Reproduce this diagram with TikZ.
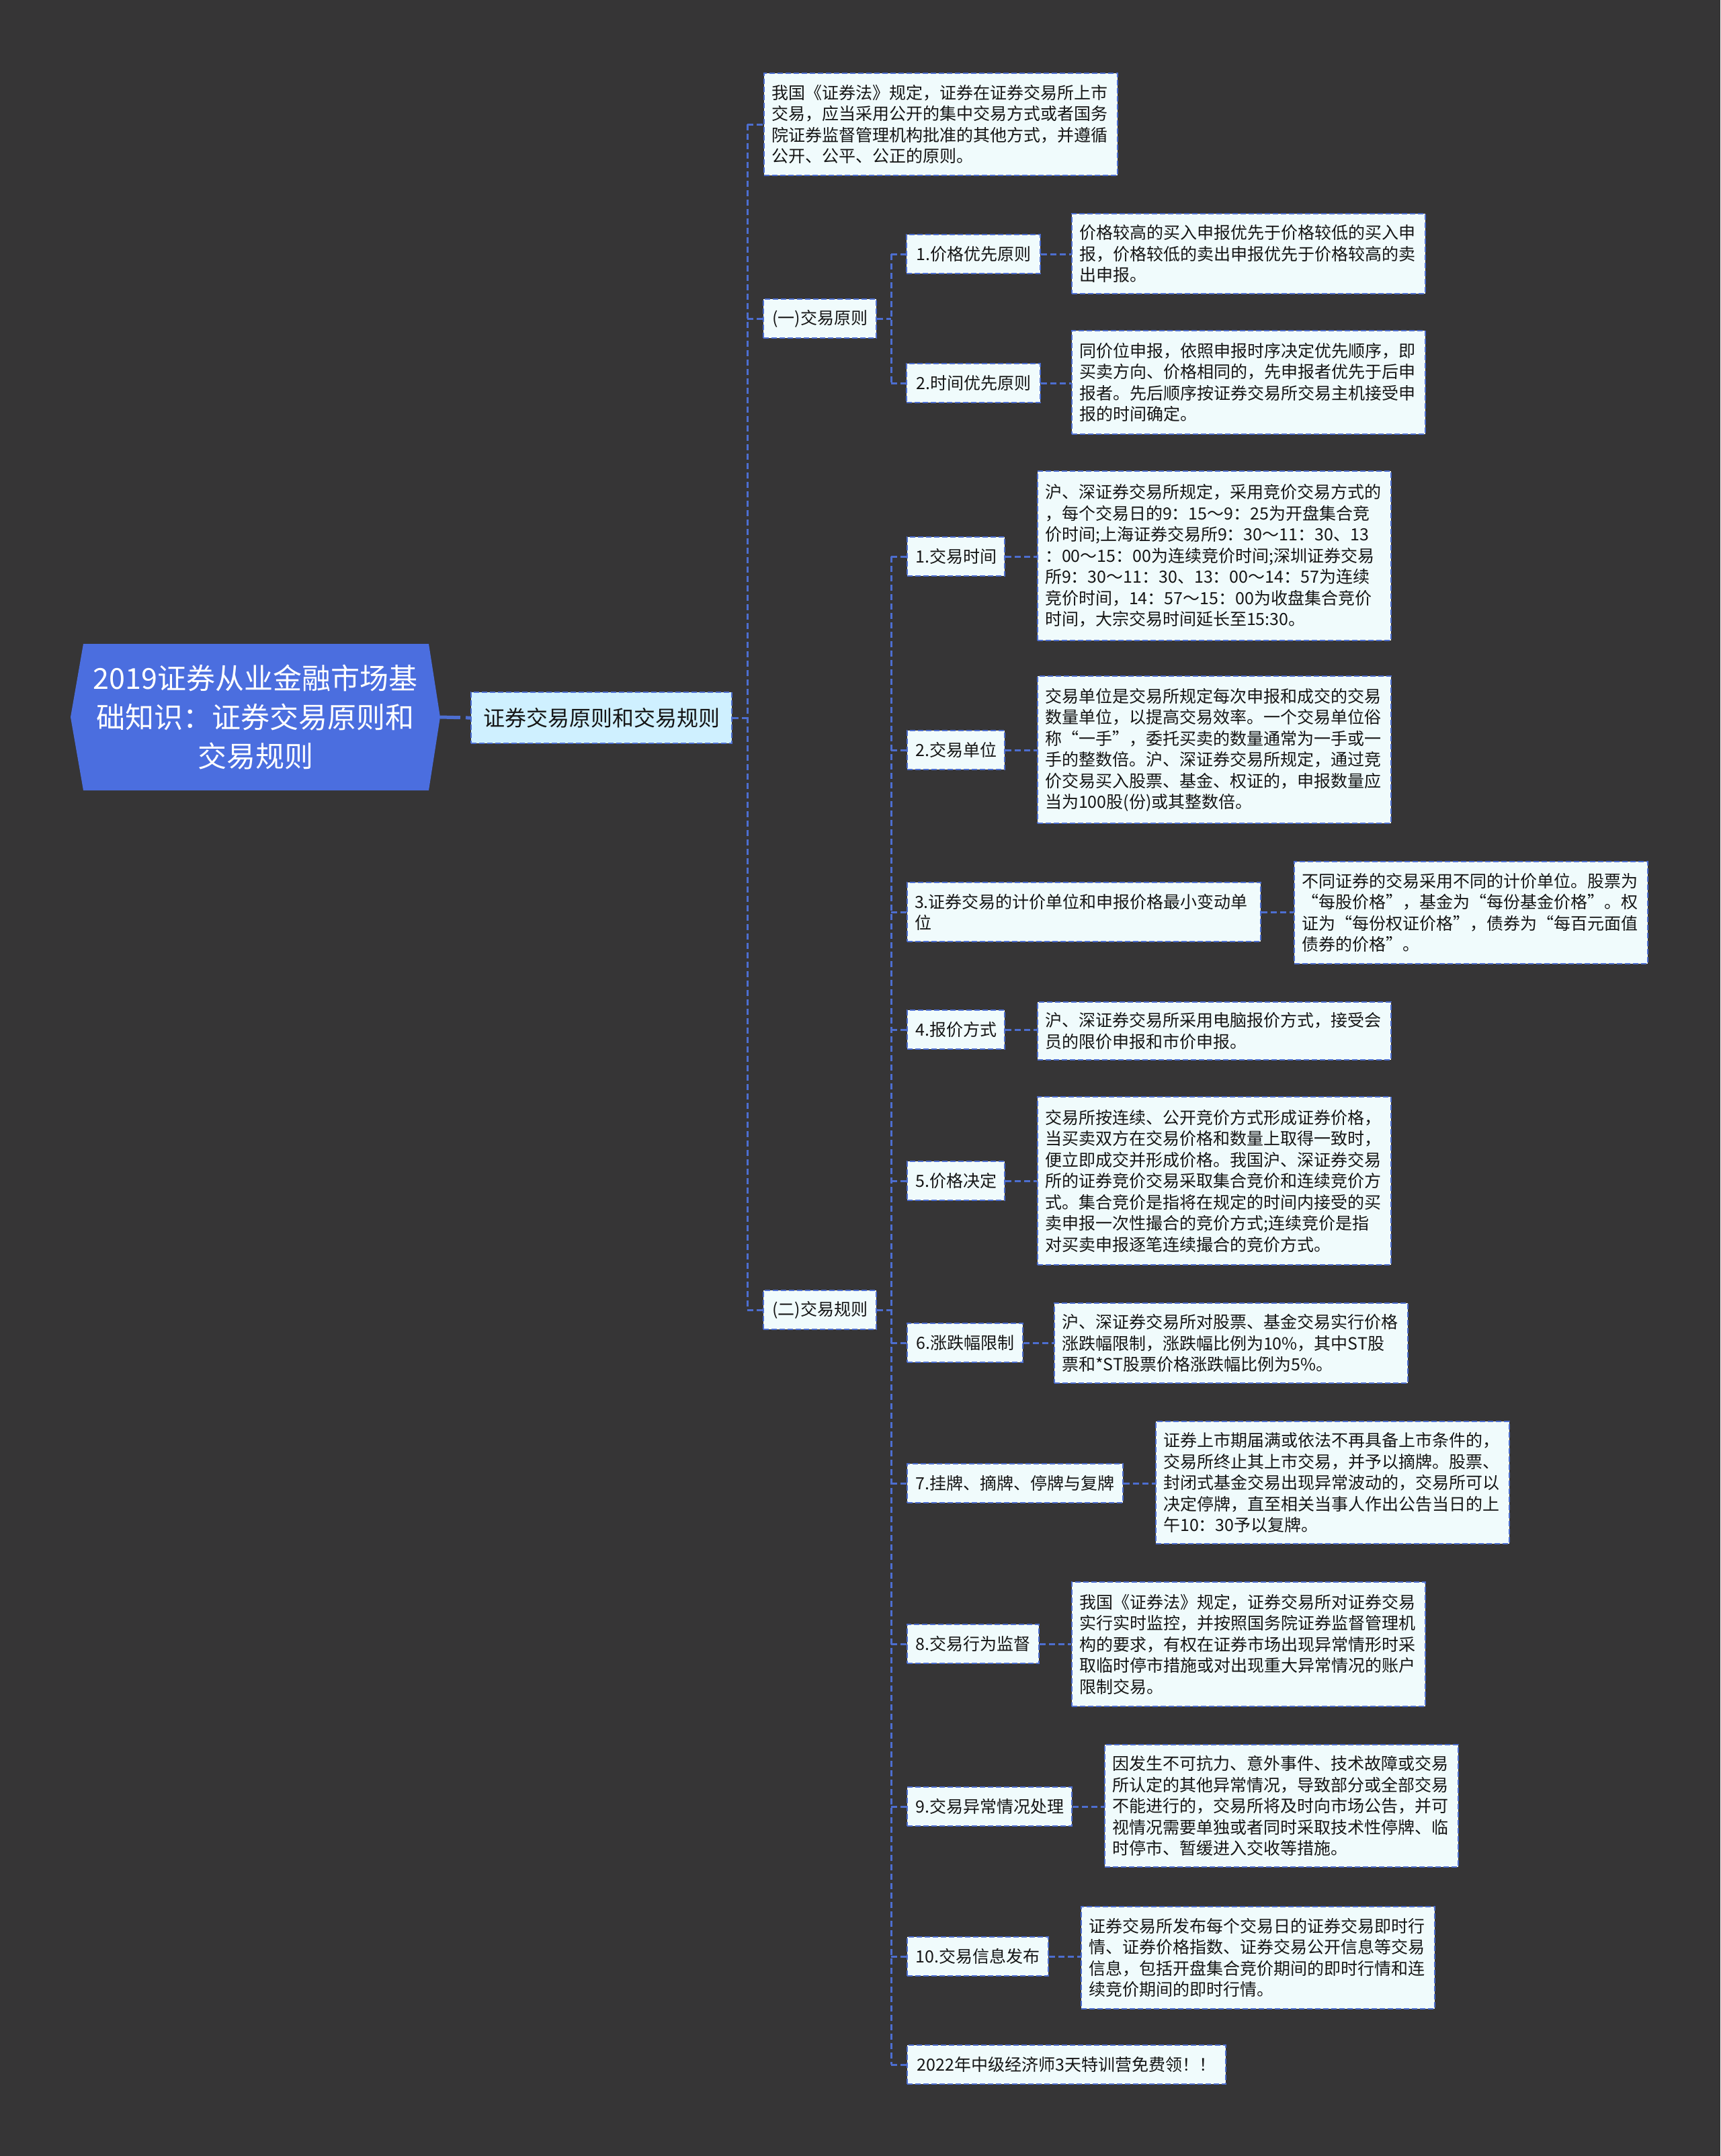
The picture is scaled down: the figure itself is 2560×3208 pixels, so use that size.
\documentclass[tikz,border=0pt]{standalone}
\usepackage{fontspec}
\setmainfont{Noto Sans CJK SC}
\definecolor{bg}{HTML}{363536}
\definecolor{rootblue}{HTML}{4B6EDF}
\definecolor{lone}{HTML}{CFF0FF}
\definecolor{boxfill}{HTML}{F0FBFC}
\definecolor{bord}{HTML}{4D6ED0}
\definecolor{txt}{HTML}{151515}
\newcommand\fsd{\fontsize{25pt}{31.5pt}\selectfont}
\begin{document}
\begin{tikzpicture}[x=1pt,y=-1pt,
  box/.style={draw=bord, fill=boxfill, line width=2.2pt, dash pattern=on 8pt off 4pt,
    inner xsep=11pt, inner ysep=0pt, align=left, anchor=north west, text=txt, font=\fsd},
  lbl/.style={box, align=center},
  link/.style={draw=bord, line width=3pt, dash pattern=on 9pt off 5pt},
  rootlink/.style={draw=bord, line width=5pt, dash pattern=on 30pt off 8pt},
]
\fill[bg] (0,0) rectangle (2560,3208);
\useasboundingbox (0,0) rectangle (2560,3208);

% root
\fill[rootblue] (124,958) -- (638,958) -- (655,1067) -- (638,1176) -- (124,1176) -- (105,1067) -- cycle;
\node[text=white, font=\fontsize{43pt}{58pt}\selectfont, align=center] (root) at (380,1067)
  {2019证券从业金融市场基\\础知识：证券交易原则和\\交易规则};
\coordinate (rootE) at (655,1067);

% level 1
\node[box, fill=lone, align=center, inner xsep=18pt, text width=352pt, minimum height=76pt,
  font=\fontsize{32pt}{38pt}\selectfont] (L1) at (700,1029) {证券交易原则和交易规则};

% level 2
\node[box, text width=504pt, minimum height=152pt] (A) at (1136,108)
  {我国《证券法》规定，证券在证券交易所上市\\交易，应当采用公开的集中交易方式或者国务\\院证券监督管理机构批准的其他方式，并遵循\\公开、公平、公正的原则。};
\node[lbl, text width=146pt, minimum height=58pt] (B) at (1135,444) {(一)交易原则};
\node[lbl, text width=146pt, minimum height=58pt] (C) at (1135,1919) {(二)交易规则};

% (一) children
\node[lbl, text width=177pt, minimum height=58pt] (B1) at (1348,348) {1.价格优先原则};
\node[box, text width=504pt, minimum height=119pt] (B1d) at (1594,317)
  {价格较高的买入申报优先于价格较低的买入申\\报，价格较低的卖出申报优先于价格较高的卖\\出申报。};
\node[lbl, text width=177pt, minimum height=58pt] (B2) at (1348,540) {2.时间优先原则};
\node[box, text width=504pt, minimum height=154pt] (B2d) at (1594,491)
  {同价位申报，依照申报时序决定优先顺序，即\\买卖方向、价格相同的，先申报者优先于后申\\报者。先后顺序按证券交易所交易主机接受申\\报的时间确定。};

% (二) children
\node[lbl, text width=123pt, minimum height=58pt] (C1) at (1349,798) {1.交易时间};
\node[box, text width=504pt, minimum height=252pt] (C1d) at (1543,700)
  {沪、深证券交易所规定，采用竞价交易方式的\\，每个交易日的9：15～9：25为开盘集合竞\\价时间;上海证券交易所9：30～11：30、13\\：00～15：00为连续竞价时间;深圳证券交易\\所9：30～11：30、13：00～14：57为连续\\竞价时间，14：57～15：00为收盘集合竞价\\时间，大宗交易时间延长至15:30。};
\node[lbl, text width=123pt, minimum height=58pt] (C2) at (1349,1086) {2.交易单位};
\node[box, text width=504pt, minimum height=219pt] (C2d) at (1543,1005)
  {交易单位是交易所规定每次申报和成交的交易\\数量单位，以提高交易效率。一个交易单位俗\\称“一手”，委托买卖的数量通常为一手或一\\手的整数倍。沪、深证券交易所规定，通过竞\\价交易买入股票、基金、权证的，申报数量应\\当为100股(份)或其整数倍。};
\node[box, text width=504pt, minimum height=88pt] (C3) at (1349,1312)
  {3.证券交易的计价单位和申报价格最小变动单\\位};
\node[box, text width=504pt, minimum height=152pt] (C3d) at (1925,1281)
  {不同证券的交易采用不同的计价单位。股票为\\“每股价格”，基金为“每份基金价格”。权\\证为“每份权证价格”，债券为“每百元面值\\债券的价格”。};
\node[lbl, text width=123pt, minimum height=58pt] (C4) at (1349,1502) {4.报价方式};
\node[box, text width=504pt, minimum height=86pt] (C4d) at (1543,1490)
  {沪、深证券交易所采用电脑报价方式，接受会\\员的限价申报和市价申报。};
\node[lbl, text width=123pt, minimum height=58pt] (C5) at (1349,1727) {5.价格决定};
\node[box, text width=504pt, minimum height=250pt] (C5d) at (1543,1631)
  {交易所按连续、公开竞价方式形成证券价格，\\当买卖双方在交易价格和数量上取得一致时，\\便立即成交并形成价格。我国沪、深证券交易\\所的证券竞价交易采取集合竞价和连续竞价方\\式。集合竞价是指将在规定的时间内接受的买\\卖申报一次性撮合的竞价方式;连续竞价是指\\对买卖申报逐笔连续撮合的竞价方式。};
\node[lbl, text width=150pt, minimum height=58pt] (C6) at (1349,1968) {6.涨跌幅限制};
\node[box, text width=504pt, minimum height=119pt] (C6d) at (1568,1938)
  {沪、深证券交易所对股票、基金交易实行价格\\涨跌幅限制，涨跌幅比例为10\%，其中ST股\\票和*ST股票价格涨跌幅比例为5\%。};
\node[lbl, text width=299pt, minimum height=58pt] (C7) at (1349,2177) {7.挂牌、摘牌、停牌与复牌};
\node[box, text width=504pt, minimum height=182pt] (C7d) at (1719,2114)
  {证券上市期届满或依法不再具备上市条件的，\\交易所终止其上市交易，并予以摘牌。股票、\\封闭式基金交易出现异常波动的，交易所可以\\决定停牌，直至相关当事人作出公告当日的上\\午10：30予以复牌。};
\node[lbl, text width=174pt, minimum height=58pt] (C8) at (1349,2416) {8.交易行为监督};
\node[box, text width=504pt, minimum height=185pt] (C8d) at (1594,2353)
  {我国《证券法》规定，证券交易所对证券交易\\实行实时监控，并按照国务院证券监督管理机\\构的要求，有权在证券市场出现异常情形时采\\取临时停市措施或对出现重大异常情况的账户\\限制交易。};
\node[lbl, text width=223pt, minimum height=58pt] (C9) at (1349,2658) {9.交易异常情况处理};
\node[box, text width=504pt, minimum height=182pt] (C9d) at (1643,2595)
  {因发生不可抗力、意外事件、技术故障或交易\\所认定的其他异常情况，导致部分或全部交易\\不能进行的，交易所将及时向市场公告，并可\\视情况需要单独或者同时采取技术性停牌、临\\时停市、暂缓进入交收等措施。};
\node[lbl, text width=188pt, minimum height=58pt] (C10) at (1349,2881) {10.交易信息发布};
\node[box, text width=504pt, minimum height=152pt] (C10d) at (1608,2836)
  {证券交易所发布每个交易日的证券交易即时行\\情、证券价格指数、证券交易公开信息等交易\\信息，包括开盘集合竞价期间的即时行情和连\\续竞价期间的即时行情。};
\node[lbl, text width=452pt, minimum height=58pt] (C11) at (1349,3042) {2022年中级经济师3天特训营免费领！！};

% connectors
\coordinate (T) at (1112,0);
\coordinate (S) at (1326,0);
\draw[rootlink] (rootE) -- (L1.west);
\draw[link] (L1.east) -- (L1.east -| T);
\draw[link] (A.west -| T) -- (C.west -| T);
\foreach \n in {A,B,C} \draw[link] (\n.west -| T) -- (\n.west);
\draw[link] (B.east) -- (B.east -| S);
\draw[link] (B1.west -| S) -- (B2.west -| S);
\foreach \n in {B1,B2} \draw[link] (\n.west -| S) -- (\n.west);
\draw[link] (C.east) -- (C.east -| S);
\draw[link] (C1.west -| S) -- (C11.west -| S);
\foreach \n in {C1,C2,C3,C4,C5,C6,C7,C8,C9,C10,C11} \draw[link] (\n.west -| S) -- (\n.west);
\foreach \a/\b in {B1/B1d,B2/B2d,C1/C1d,C2/C2d,C3/C3d,C4/C4d,C5/C5d,C6/C6d,C7/C7d,C8/C8d,C9/C9d,C10/C10d}
  \draw[link] (\a.east) -- (\a.east -| \b.west);
\end{tikzpicture}
\end{document}
